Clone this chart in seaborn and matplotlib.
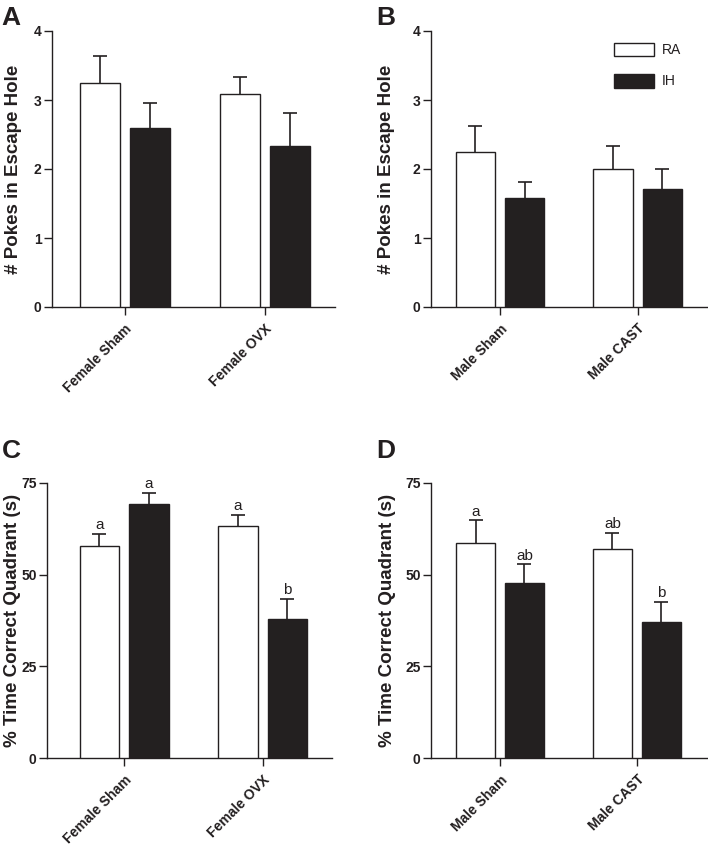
"""
Escape hole pokes / time in correct quadrant, RA vs IH
"""
import matplotlib
matplotlib.use('Agg')
import matplotlib.pyplot as plt
import seaborn as sns
import pandas as pd

# ---- data ----
conditions = ['RA', 'IH']
groups_female = ['Female Sham', 'Female OVX']
groups_male = ['Male Sham', 'Male CAST']

# A: pokes, female
pokes_f_ra = [3.25, 3.08]
pokes_f_ra_err = [0.39, 0.25]
pokes_f_ih = [2.59, 2.33]
pokes_f_ih_err = [0.37, 0.48]

# B: pokes, male
pokes_m_ra = [2.25, 2.00]
pokes_m_ra_err = [0.37, 0.33]
pokes_m_ih = [1.58, 1.71]
pokes_m_ih_err = [0.23, 0.29]

# C: time in correct quadrant, female
time_f_ra = [57.7, 63.3]
time_f_ra_err = [3.4, 3.0]
time_f_ih = [69.4, 38.0]
time_f_ih_err = [2.8, 5.4]
letters_f_ra = ['a', 'a']
letters_f_ih = ['a', 'b']

# D: time in correct quadrant, male
time_m_ra = [58.6, 57.0]
time_m_ra_err = [6.2, 4.5]
time_m_ih = [47.7, 37.2]
time_m_ih_err = [5.1, 5.3]
letters_m_ra = ['a', 'ab']
letters_m_ih = ['ab', 'b']

pokes_ticks = [0, 1, 2, 3, 4]
time_ticks = [0, 25, 50, 75]

INK = '#231f20'

sns.set_style('ticks')
plt.rcParams['font.family'] = ['Liberation Sans', 'DejaVu Sans']
plt.rcParams['text.color'] = INK
plt.rcParams['axes.labelcolor'] = INK
plt.rcParams['xtick.color'] = INK
plt.rcParams['ytick.color'] = INK


def draw_panel(ax, groups, ra, ra_err, ih, ih_err, yticks, ylabel, xlim,
               label_x, ra_letters=None, ih_letters=None, legend=False):
    df = pd.DataFrame({
        'group': groups * 2,
        'cond': ['RA'] * len(groups) + ['IH'] * len(groups),
        'value': ra + ih,
        'err': ra_err + ih_err,
        'letter': (ra_letters or [''] * len(groups)) + (ih_letters or [''] * len(groups)),
    })
    sns.barplot(data=df, x='group', y='value', hue='cond', order=groups,
                hue_order=conditions, palette={'RA': 'white', 'IH': INK},
                edgecolor=INK, linewidth=1.0, width=0.714, gap=0.2,
                errorbar=None, legend=legend, ax=ax, zorder=3)

    # upper-only error bars + letters
    for container, cond in zip(ax.containers, conditions):
        sub = df[df['cond'] == cond].set_index('group').loc[groups]
        for bar, (_, row) in zip(container, sub.iterrows()):
            x = bar.get_x() + bar.get_width() / 2
            eb = ax.errorbar(x, row['value'], yerr=[[0], [row['err']]], fmt='none',
                             ecolor=INK, elinewidth=1.2, capsize=4.8, capthick=1.2,
                             zorder=2)
            # drop the cap sitting on the bar top
            eb[1][0].set_visible(False)
            if row['letter']:
                ax.annotate(row['letter'], (x, row['value'] + row['err']),
                            xytext=(0, 3.5), textcoords='offset points',
                            ha='center', va='baseline', fontsize=11)

    ax.set_ylim(yticks[0], yticks[-1])
    ax.set_yticks(yticks)
    ax.set_xlim(*xlim)
    ax.set_xlabel('')
    ax.set_ylabel(ylabel, fontsize=13.5, fontweight='bold')
    ax.yaxis.set_label_coords(label_x, 0.5)
    ax.tick_params(axis='both', length=5.5, width=1)
    ax.tick_params(axis='y', labelsize=10, pad=2)
    ax.tick_params(axis='x', pad=5)
    for lab in ax.get_yticklabels():
        lab.set_fontweight('bold')
    ax.set_xticks(range(len(groups)))
    ax.set_xticklabels(groups, rotation=45, ha='right', va='top',
                       rotation_mode='anchor', fontweight='bold', fontsize=10)
    for side in ['left', 'bottom']:
        ax.spines[side].set_linewidth(1.0)
        ax.spines[side].set_color(INK)
    sns.despine(ax=ax)

    if legend:
        sns.move_legend(ax, 'upper left', bbox_to_anchor=(0.66, 0.958),
                        frameon=False, title=None, fontsize=10,
                        handlelength=2.9, handleheight=1.15,
                        labelspacing=1.2, handletextpad=0.55,
                        borderpad=0, borderaxespad=0)


W, H = 708, 850
fig = plt.figure(figsize=(W / 100, H / 100), dpi=100)


def px_axes(left, right, top, bottom):
    return fig.add_axes([left / W, 1 - bottom / H, (right - left) / W, (bottom - top) / H])


ax_a = px_axes(52, 335, 31, 307)
ax_b = px_axes(431, 708, 31, 307)
ax_c = px_axes(47, 332, 483, 758)
ax_d = px_axes(431, 708, 483, 758)

draw_panel(ax_a, groups_female, pokes_f_ra, pokes_f_ra_err, pokes_f_ih, pokes_f_ih_err,
           pokes_ticks, '# Pokes in Escape Hole', (-0.52, 1.5), -0.106)
draw_panel(ax_b, groups_male, pokes_m_ra, pokes_m_ra_err, pokes_m_ih, pokes_m_ih_err,
           pokes_ticks, '# Pokes in Escape Hole', (-0.5, 1.51), -0.13, legend=True)
draw_panel(ax_c, groups_female, time_f_ra, time_f_ra_err, time_f_ih, time_f_ih_err,
           time_ticks, '% Time Correct Quadrant (s)', (-0.556, 1.5), -0.09,
           letters_f_ra, letters_f_ih)
draw_panel(ax_d, groups_male, time_m_ra, time_m_ra_err, time_m_ih, time_m_ih_err,
           time_ticks, '% Time Correct Quadrant (s)', (-0.505, 1.52), -0.127,
           letters_m_ra, letters_m_ih)

# panel letters
for letter, x, y in [('A', 1, 25), ('B', 376, 25), ('C', 2, 458), ('D', 376, 458)]:
    fig.text(x / W, 1 - y / H, letter, fontsize=19, fontweight='bold', va='baseline')

fig.savefig('out.png', dpi=100)
